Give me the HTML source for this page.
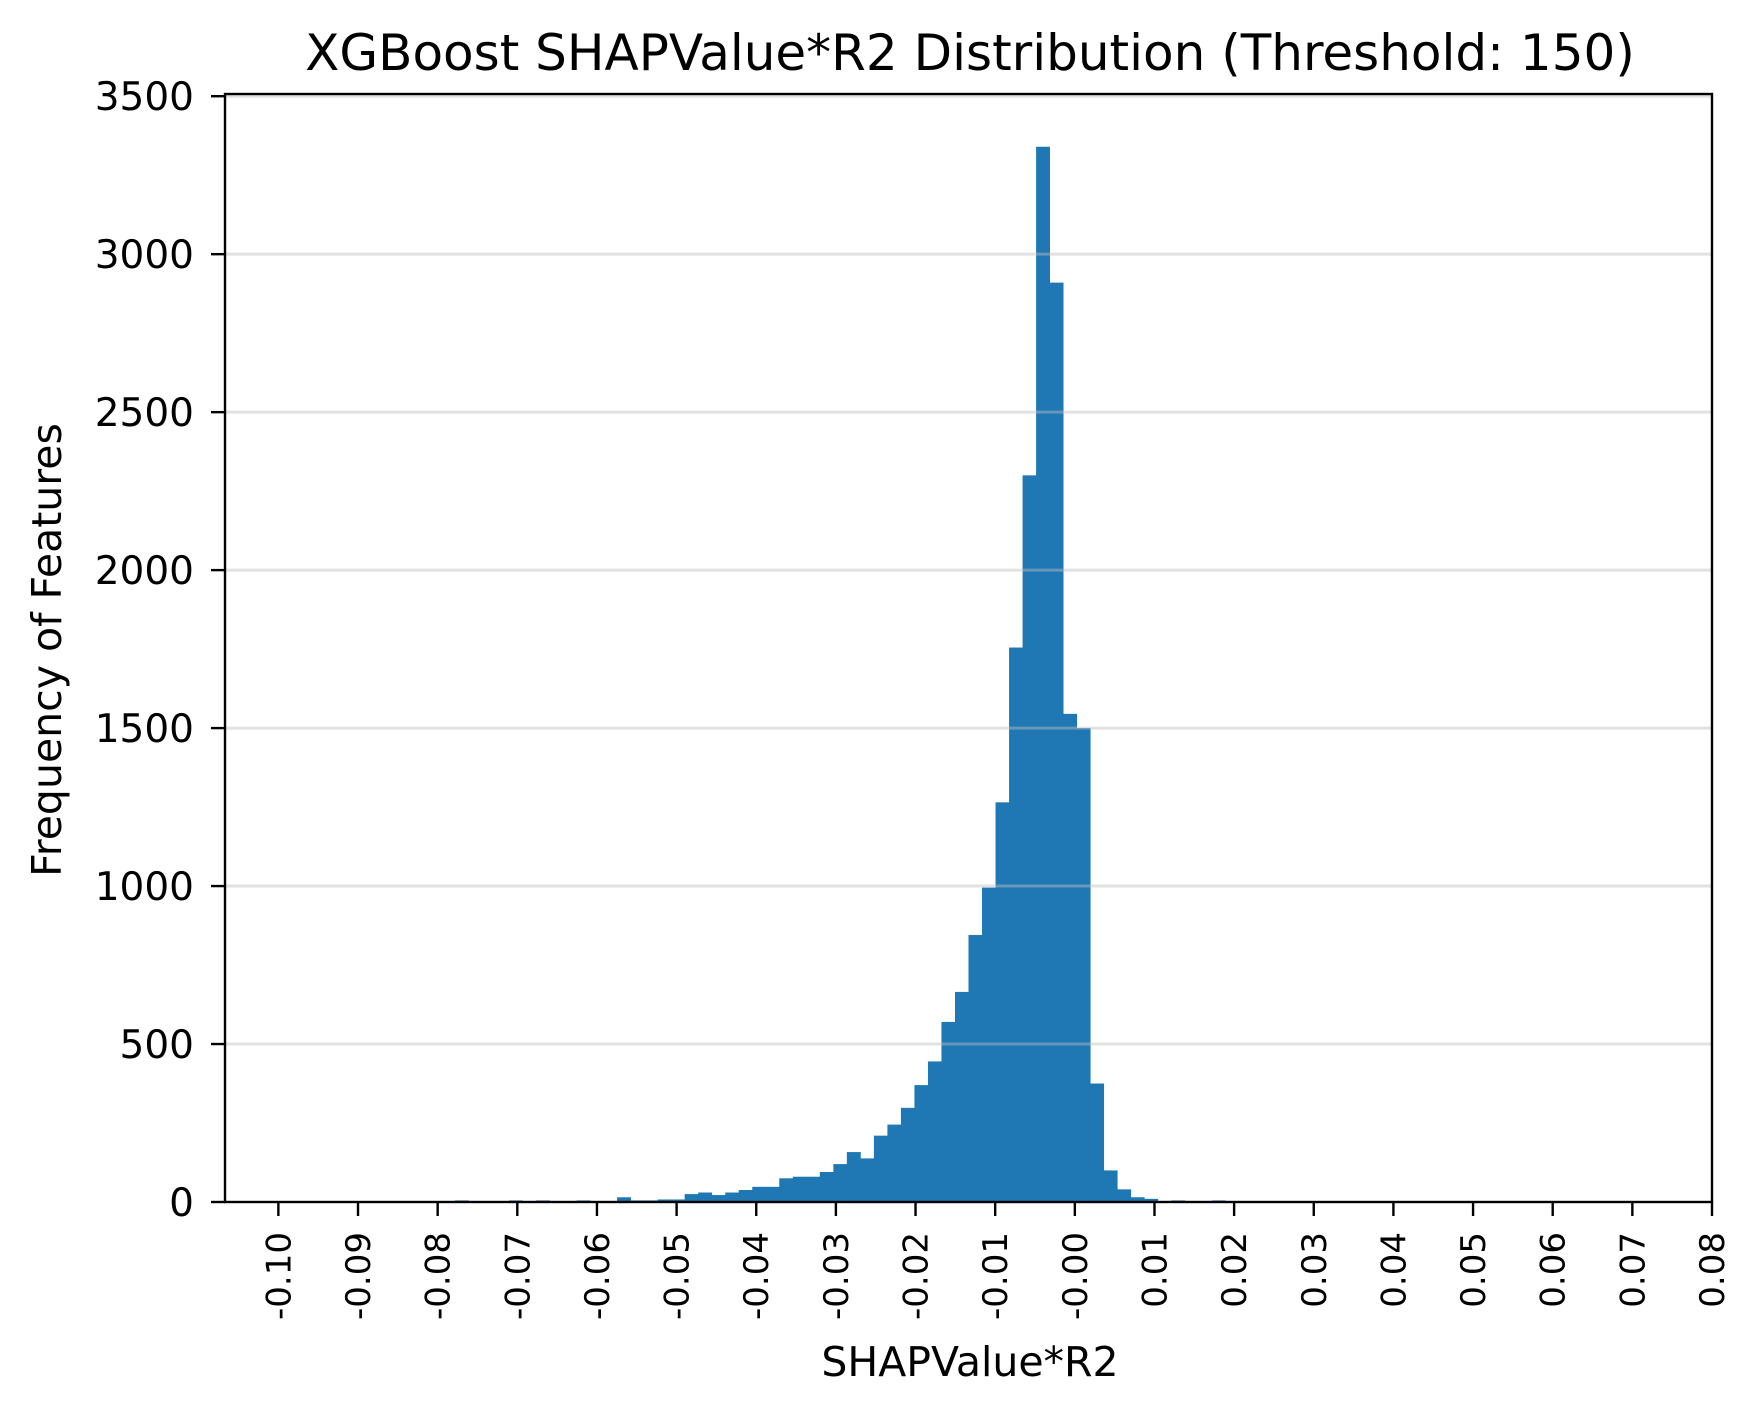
<!DOCTYPE html>
<html><head><meta charset="utf-8"><style>
html,body{margin:0;padding:0;background:#fff;}
svg text{font-family:"DejaVu Sans","Liberation Sans",sans-serif;fill:#000;}
</style></head><body>
<svg id="chart" width="1755" height="1406" viewBox="0 0 1755 1406" xmlns="http://www.w3.org/2000/svg">
<rect x="0" y="0" width="1755" height="1406" fill="#fff"/>
<text x="970" y="70" font-size="50" text-anchor="middle">XGBoost SHAPValue*R2 Distribution (Threshold: 150)</text>
<g id="bars"></g>
<g id="grid"></g>
<g id="axes"></g>
<text x="970" y="1376" font-size="41" text-anchor="middle">SHAPValue*R2</text>
<text x="0" y="0" font-size="41" text-anchor="middle" transform="translate(61,650) rotate(-90)">Frequency of Features</text>
</svg>
<script>
const counts = [0,0,0,0,0,0,0,0,0,0,0,0,5,0,0,0,5,0,5,0,0,5,0,0,15,5,5,8,8,25,30,22,30,38,48,48,75,80,80,95,120,158,138,210,245,298,370,445,570,665,845,995,1265,1755,2300,3340,2910,1545,1500,375,100,40,15,10,3,5,2,2,5,0,0,0,0,0,0,0,0,0,0,0,0,0,0,0,0,0,0,0,0,0,0,0,0,0,0,0,0,0,0,0];
const binStart = [-0.0982];
const binEnd = [0.0715];
const xTickValues = [-0.10,-0.09,-0.08,-0.07,-0.06,-0.05,-0.04,-0.03,-0.02,-0.01,0.00,0.01,0.02,0.03,0.04,0.05,0.06,0.07,0.08];
const xTickLabels = ["-0.10","-0.09","-0.08","-0.07","-0.06","-0.05","-0.04","-0.03","-0.02","-0.01","-0.00","0.01","0.02","0.03","0.04","0.05","0.06","0.07","0.08"];
const yTickValues = [0,500,1000,1500,2000,2500,3000,3500];

const NS="http://www.w3.org/2000/svg";
const L=225,R=1712,T=94,B=1202;
const xMin=-0.1067,xMax=0.0800,yMax=3507;
function xs(v){return L+(v-xMin)/(xMax-xMin)*(R-L);}
function ys(v){return B-v/yMax*(B-T);}
function mk(tag,attrs,parent){const e=document.createElementNS(NS,tag);for(const k in attrs)e.setAttribute(k,attrs[k]);parent.appendChild(e);return e;}

const bars=document.getElementById('bars');
const bw=(binEnd[0]-binStart[0])/counts.length;
counts.forEach((c,i)=>{
  if(c<=0)return;
  const x0=xs(binStart[0]+i*bw),x1=xs(binStart[0]+(i+1)*bw);
  const r=mk('rect',{x:x0,y:ys(c),width:x1-x0+0.4,height:B-ys(c),fill:'#1f77b4'},bars);
  
  
});

const grid=document.getElementById('grid');
yTickValues.forEach(v=>{
  if(v===0)return;
  const l=mk('line',{x1:L,x2:R,y1:ys(v),y2:ys(v),stroke:'rgba(190,190,190,0.45)','stroke-width':3},grid);
  
  
});

const axes=document.getElementById('axes');
const frame=mk('rect',{x:L,y:T,width:R-L,height:B-T,fill:'none',stroke:'#000','stroke-width':2.4},axes);


yTickValues.forEach(v=>{
  const y=ys(v);
  mk('line',{x1:L-14,x2:L,y1:y,y2:y,stroke:'#000','stroke-width':2.4},axes);
  const t=mk('text',{x:L-31,y:y+14,'font-size':39,'text-anchor':'end'},axes);
  t.textContent=String(v);
  
  
});
xTickValues.forEach((v,i)=>{
  const x=xs(v);
  mk('line',{x1:x,x2:x,y1:B,y2:B+14,stroke:'#000','stroke-width':2.4},axes);
  const t=mk('text',{x:0,y:0,'font-size':34,'text-anchor':'end',transform:`translate(${x+12},${B+30}) rotate(-90)`},axes);
  t.textContent=xTickLabels[i];
  
  
});
</script>
</body></html>
